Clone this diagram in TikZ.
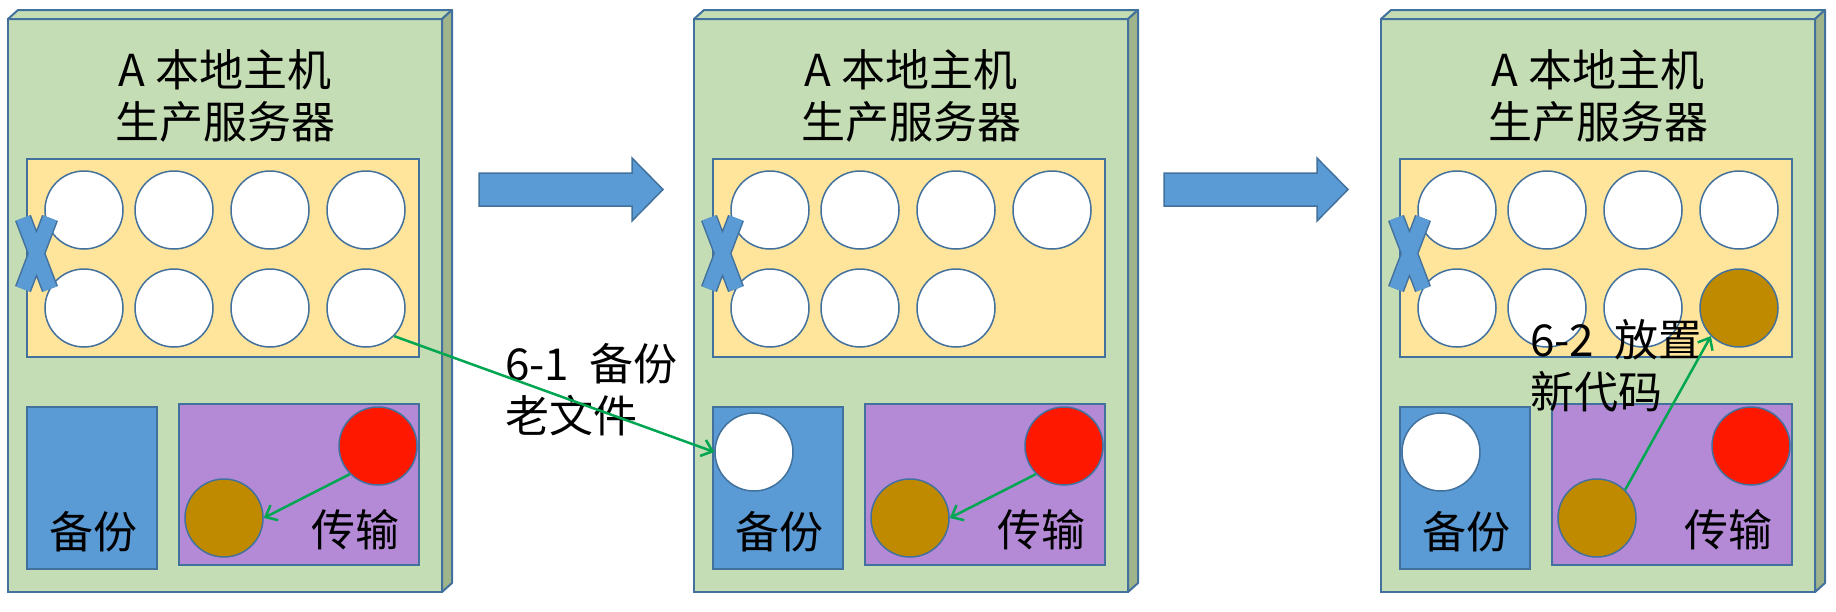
\documentclass[tikz,border=0pt]{standalone}
\usepackage{fontspec}
\setmainfont{Noto Sans CJK SC}
\usepackage{tikz}
\usetikzlibrary{arrows.meta}
\definecolor{HostGreen}{RGB}{197,221,180}
\definecolor{HostSide}{RGB}{160,180,140}
\definecolor{EdgeBlue}{RGB}{65,113,156}
\definecolor{PoolYellow}{RGB}{255,228,156}
\definecolor{BackBlue}{RGB}{91,155,213}
\definecolor{XferPurple}{RGB}{180,138,214}
\definecolor{HotRed}{RGB}{255,24,0}
\definecolor{NewBrown}{RGB}{192,138,0}
\definecolor{FlowGreen}{RGB}{0,166,81}

\begin{document}
\begin{tikzpicture}[x=1pt, y=-1pt,
  host/.style={draw=EdgeBlue, line width=2pt, fill=HostGreen, inner sep=0pt, outer sep=0pt, minimum width=434pt, minimum height=573pt},
  hostface/.style={draw=EdgeBlue, line width=2pt, fill=#1, line join=round},
  pool/.style={draw=EdgeBlue, line width=2pt, fill=PoolYellow, inner sep=0pt, minimum width=392pt, minimum height=198pt},
  bkp/.style={draw=EdgeBlue, line width=2pt, fill=BackBlue, inner sep=0pt, minimum width=130pt, minimum height=162pt},
  xfer/.style={draw=EdgeBlue, line width=2pt, fill=XferPurple, inner sep=0pt, minimum width=240pt, minimum height=161pt},
  slot/.style={circle, draw=EdgeBlue, line width=1.5pt, fill=#1, inner sep=0pt, minimum size=78pt},
  slot/.default=white,
  words/.style={font=\fontsize{44pt}{52pt}\selectfont, inner sep=0pt},
  xmark/.style={draw=EdgeBlue, line width=1.5pt, double=BackBlue, double distance=14pt},
  bigarrow/.style={draw=EdgeBlue, line width=1.5pt, fill=BackBlue, line join=miter},
  flow/.style={draw=FlowGreen, line width=2.5pt, -{Straight Barb[length=10pt,width=17pt]}}
]
\useasboundingbox (0,0) rectangle (1836,611);

% the three host boxes
\foreach \h/\hx in {1/8,2/694,3/1381}{
  \node[host] (pnl\h) at (\hx+217,305.5) {};
  \draw[hostface=HostGreen] (pnl\h.north west) -- ++(10,-9) -- ++(434,0) -- (pnl\h.north east) -- cycle;
  \draw[hostface=HostSide] (pnl\h.north east) -- ++(10,-9) -- ++(0,573) -- (pnl\h.south east) -- cycle;
  \node[words, align=center] (ttl\h) at (\hx+217,96) {A 本地主机\\生产服务器};
  \node[pool] (pool\h) at (\hx+215,258) {};
  \node[bkp] (bkp\h) at (\hx+84,488) {};
  \node[words] (bkt\h) at (\hx+85,532) {备份};
  \node[xfer] (xfer\h) at (\hx+291,484.5) {};
  \node[words] (xft\h) at (\hx+347,530) {传输};
  \node[slot=HotRed] (hot\h) at (\hx+370,446) {};
  \node[slot=NewBrown] (new\h) at (\hx+216,518) {};
}

% files in the pool
\foreach \h/\hx in {1/8,2/694,3/1381}
  \foreach \c/\cx in {1/76,2/166,3/262,4/358}
    \node[slot] (u\h\c) at (\hx+\cx,210) {};
\foreach \c/\cx in {1/76,2/166,3/262,4/358}
  \node[slot] (d1\c) at (8+\cx,308) {};
\foreach \c/\cx in {1/76,2/166,3/262}{
  \node[slot] (d2\c) at (694+\cx,308) {};
  \node[slot] (d3\c) at (1381+\cx,308) {};
}
\node[slot=NewBrown] (d34) at (1381+358,308) {};

% backed up old file
\node[slot] (old2) at (694+60,452) {};
\node[slot] (old3) at (1381+60,452) {};

% crosses
\foreach \hx in {8,694,1381}
  \draw[xmark] (\hx+15,218) -- (\hx+42,289) (\hx+42,218) -- (\hx+15,289);

% step arrows
\foreach \s in {479,1164}
  \draw[bigarrow] (\s,173) -- ++(153,0) -- ++(0,-15) -- ++(31,31.5) -- ++(-31,31.5) -- ++(0,-15) -- ++(-153,0) -- cycle;

\node[words, align=left, anchor=west] (lbl61) at (505,390) {6-1~~备份\\老文件};
\node[words, align=left, anchor=west] (lbl62) at (1530,366) {6-2~~放置\\新代码};

\draw[flow] (hot1.south west) -- (new1.east);
\draw[flow] (hot2.south west) -- (new2.east);
\draw[flow] (d14.south east) -- (old2.west);
\draw[flow] (new3.north east) -- (d34.south west);
\end{tikzpicture}
\end{document}
